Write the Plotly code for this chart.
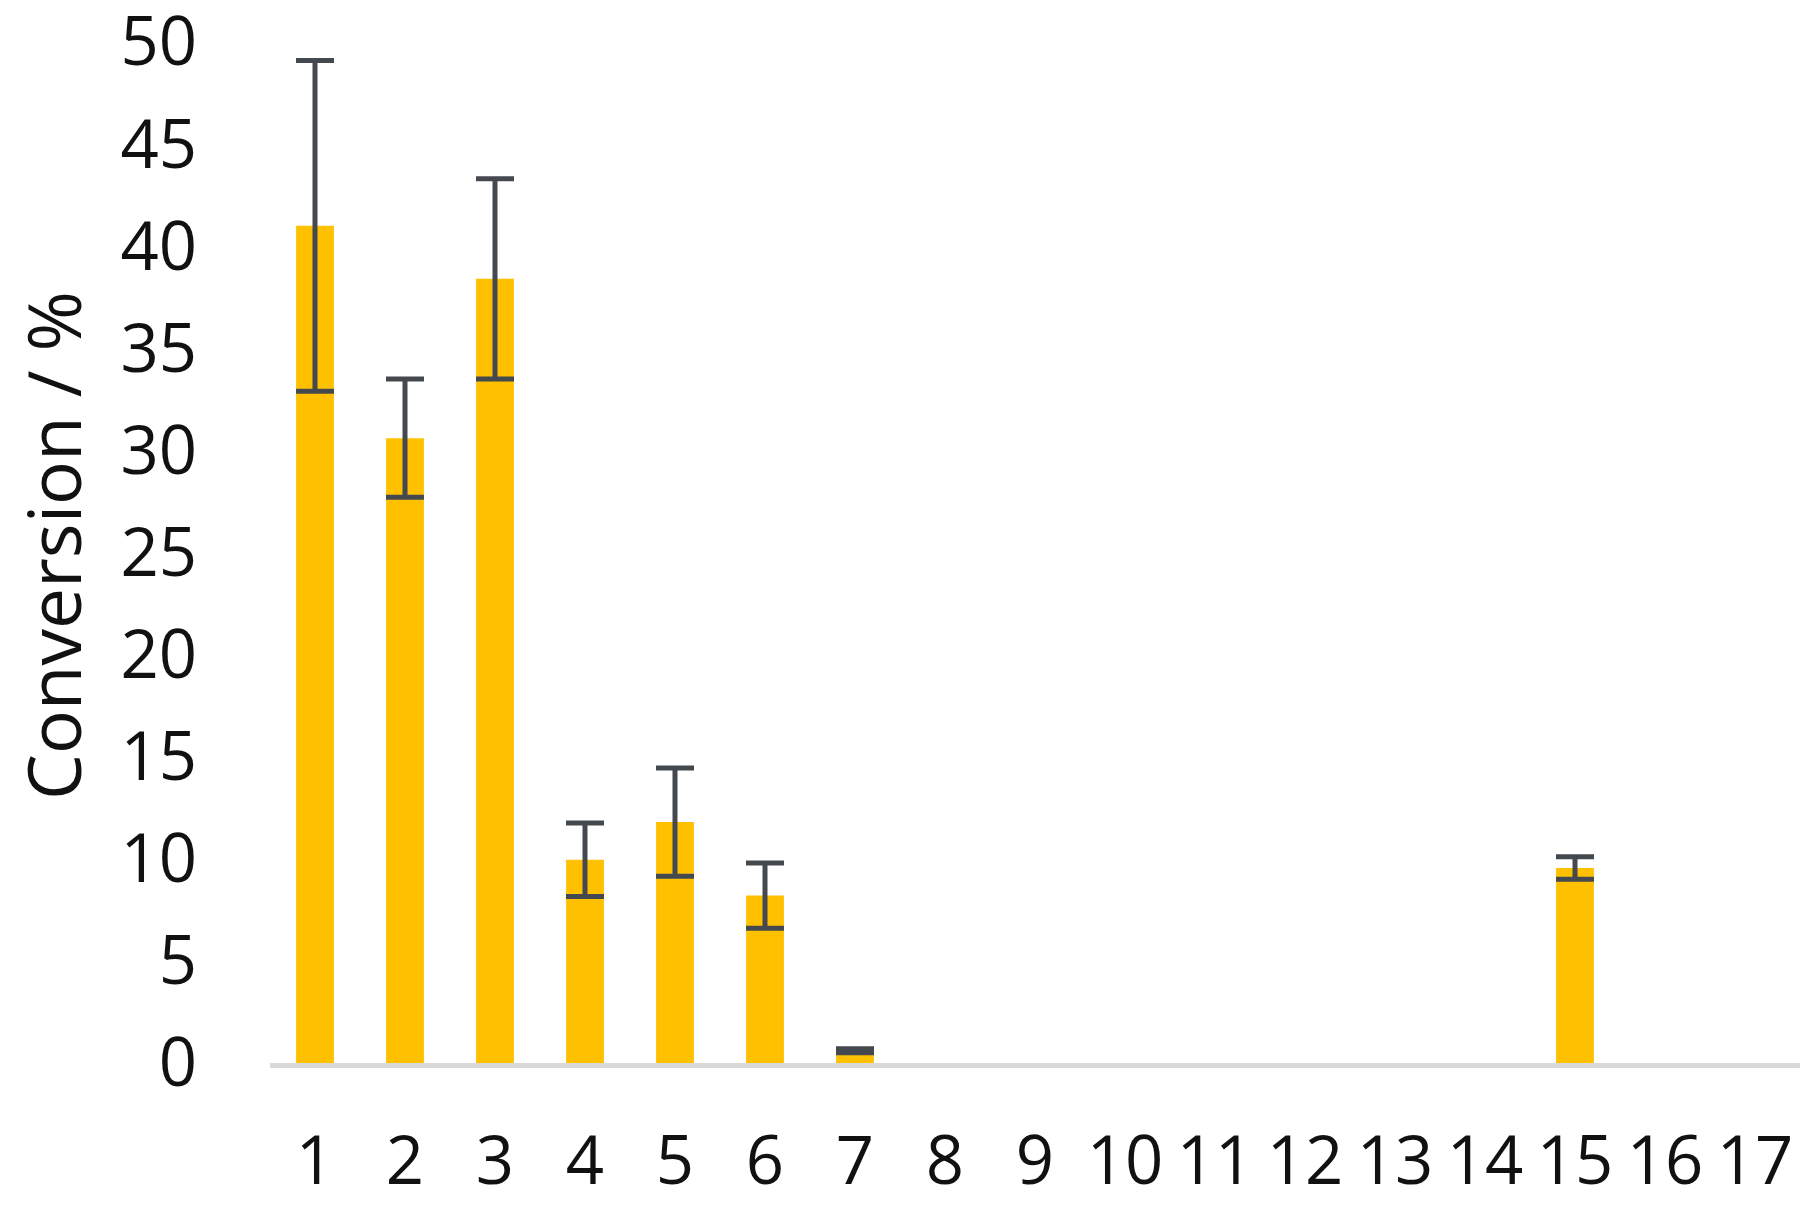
import plotly.graph_objects as go

# entries 1..17, conversion in % with error bars
entries = [str(i) for i in range(1, 18)]
conversion = [41.0, 30.6, 38.4, 9.95, 11.8, 8.2, 0.6, 0, 0, 0, 0, 0, 0, 0, 9.55, 0, 0]

# error bars only exist for the entries with conversion
err_entries = ["1", "2", "3", "4", "5", "6", "7", "15"]
err_conversion = [41.0, 30.6, 38.4, 9.95, 11.8, 8.2, 0.6, 9.55]
err_values = [8.1, 2.9, 4.9, 1.8, 2.65, 1.6, 0.1, 0.55]

y_ticks = [0, 5, 10, 15, 20, 25, 30, 35, 40, 45, 50]

font_name = "Open Sans, Noto Sans, sans-serif"
text_col = "#111111"

bars = go.Bar(
    x=entries,
    y=conversion,
    marker=dict(color="#FFC000", line=dict(width=0)),
    hoverinfo="x+y",
)

errs = go.Scatter(
    x=err_entries,
    y=err_conversion,
    mode="markers",
    marker=dict(size=1, opacity=0),
    error_y=dict(
        type="data",
        array=err_values,
        visible=True,
        color="#44484f",
        thickness=5,
        width=19,
    ),
    hoverinfo="skip",
)

fig = go.Figure(data=[bars, errs])

fig.update_layout(
    width=1819,
    height=1209,
    margin=dict(l=270, r=19, t=42, b=146),
    paper_bgcolor="white",
    plot_bgcolor="white",
    bargap=0.58,
    showlegend=False,
    font=dict(family=font_name, size=67, color=text_col),
)

fig.update_xaxes(
    type="category",
    categoryorder="array",
    categoryarray=entries,
    range=[-0.5, 16.5],
    showline=True,
    linecolor="#D9D9D9",
    linewidth=5,
    showgrid=False,
    ticks="",
    automargin=False,
    ticklabelstandoff=36,
    ticklabeloverflow="allow",
    tickfont=dict(family=font_name, size=67, color=text_col),
)

fig.update_yaxes(
    range=[0, 50],
    tickvals=y_ticks,
    showline=False,
    showgrid=False,
    zeroline=False,
    ticks="",
    automargin=False,
    ticklabelstandoff=72,
    ticklabeloverflow="allow",
    tickfont=dict(family=font_name, size=67, color=text_col),
)

# axis title placed as annotation to match position
fig.add_annotation(
    text="Conversion / %",
    textangle=-90,
    xref="paper",
    yref="paper",
    x=-0.142,
    y=0.507,
    xanchor="center",
    yanchor="middle",
    showarrow=False,
    font=dict(family=font_name, size=73, color=text_col),
)

# drop the default page margin so the figure sits at the window corner
fig.write_html(
    "out.html",
    config={"displayModeBar": False},
    post_script="document.body.style.margin='0px';",
)
